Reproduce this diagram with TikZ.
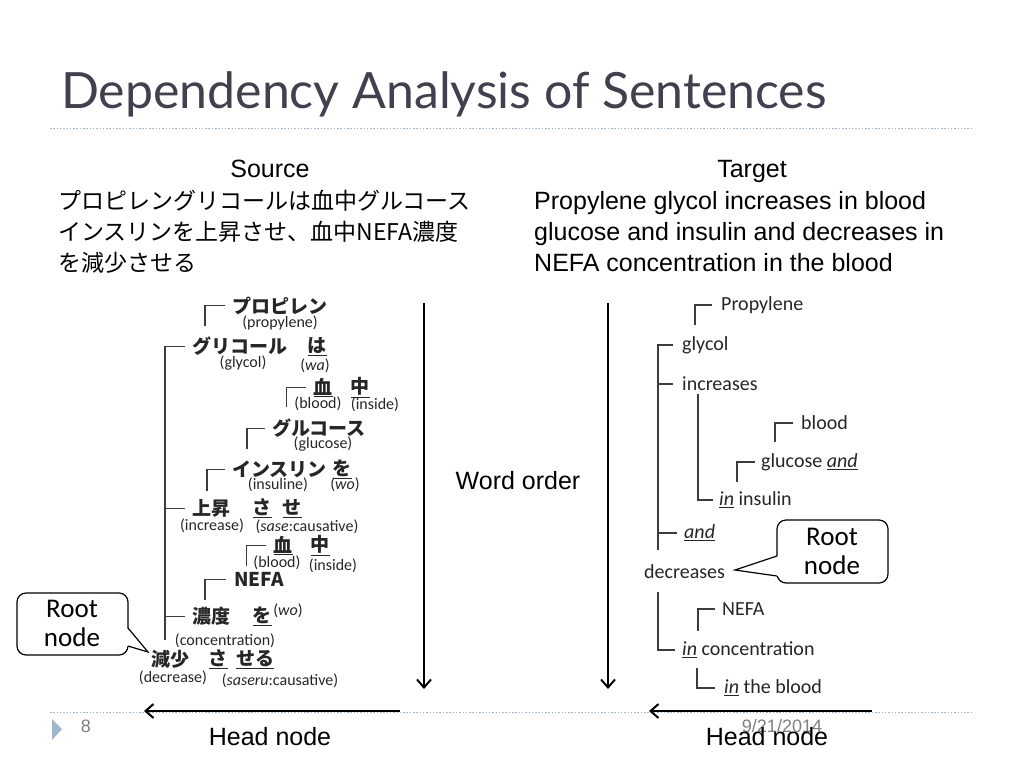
\documentclass[tikz,border=0pt]{standalone}
\usepackage{fontspec}
\setmainfont{Liberation Sans}
\newfontfamily\jpfont{Noto Sans CJK JP}
\newfontfamily\calfont{Carlito}
\newfontfamily\titlefont{Lato}
\usetikzlibrary{arrows.meta}
\definecolor{titlegray}{RGB}{64,64,78}
\definecolor{dotblue}{RGB}{160,182,204}
\definecolor{treegray}{RGB}{60,60,60}
\definecolor{footgray}{RGB}{128,128,128}
\begin{document}
\begin{tikzpicture}[x=1pt,y=-1pt,
  body/.style={font=\fontsize{25}{30}\selectfont, inner sep=0pt},
  jpbody/.style={font=\jpfont\fontsize{23}{28}\selectfont, inner sep=0pt, anchor=base west},
  jw/.style={font=\jpfont\bfseries\fontsize{19}{22}\selectfont, inner sep=0pt, text=black!85, yshift=1.5pt},
  gl/.style={font=\calfont\fontsize{16}{18}\selectfont, inner sep=0pt, text=black!85},
  ew/.style={font=\calfont\fontsize{20}{24}\selectfont, inner sep=0pt, anchor=west, text=black!85},
  tree/.style={draw=treegray, line width=1.6pt},
  dotline/.style={draw=dotblue, line width=1pt, dash pattern=on 1.5pt off 1.8pt},
  bigarrow/.style={draw=black, line width=2pt, -{Straight Barb[length=8pt,width=14pt,line width=2pt]}},
  callbox/.style={draw=black, line width=1.2pt, fill=white, rounded corners=9pt},
  calltext/.style={font=\calfont\fontsize{27}{29}\selectfont, align=center, inner sep=0pt}
]
\useasboundingbox (0,0) rectangle (1024,768);
\fill[white] (0,0) rectangle (1024,768);

% title and rules
\node[font=\titlefont\fontsize{50}{58}\selectfont, text=titlegray, anchor=base west, inner sep=0pt] (title) at (61,108) {Dependency Analysis of Sentences};
\coordinate (tl) at (50,128); \coordinate (tr) at (972,128);
\draw[dotline] (tl) -- (tr);
\coordinate (bl) at (50,712); \coordinate (br) at (972,712);
\draw[dotline] (bl) -- (br);

% headings and sentences
\node[body, anchor=base] (src) at (270,177) {Source};
\node[body, anchor=base] (tgt) at (752,177) {Target};
\node[jpbody] (js1) at (58,209) {プロピレングリコールは血中グルコース};
\node[jpbody] (js2) at (58,240) {インスリンを上昇させ、血中NEFA濃度};
\node[jpbody] (js3) at (58,271) {を減少させる};
\node[body, anchor=base west] (es1) at (534,209) {Propylene glycol increases in blood};
\node[body, anchor=base west] (es2) at (534,240) {glucose and insulin and decreases in};
\node[body, anchor=base west] (es3) at (534,271) {NEFA concentration in the blood};

% ---------- left tree ----------
\node[jw, anchor=west] (jpro) at (232,307) {プロピレン};
\node[gl] (gpro) at (280,323) {(propylene)};
\node[jw, anchor=west] (jgly) at (192,348) {グリコール};
\node[jw] (jwa) at (317,348) {\underline{は}};
\node[gl] (ggly) at (243,363) {(glycol)};
\node[gl] (gwa) at (315,366) {(\textit{wa})};
\node[jw] (jb1) at (323,389) {\underline{血}};
\node[jw] (jn1) at (360,389) {\underline{中}};
\node[gl] (gb1) at (318,404) {(blood)};
\node[gl] (gn1) at (375,405) {(inside)};
\node[jw, anchor=west] (jglu) at (272,430) {グルコース};
\node[gl] (gglu) at (323,444) {(glucose)};
\node[jw, anchor=west] (jins) at (232,471) {インスリン};
\node[jw] (jwo1) at (342,471) {\underline{を}};
\node[gl] (gins) at (278,485) {(insuline)};
\node[gl] (gwo1) at (345,485) {(\textit{wo})};
\node[jw, anchor=west] (jjo) at (192,510) {上昇};
\node[jw] (jsa1) at (262,510) {\underline{さ}};
\node[jw] (jse1) at (292,510) {\underline{せ}};
\node[gl] (ginc) at (212,526) {(increase)};
\node[gl] (gsase) at (307,527) {(\textit{sase}:causative)};
\node[jw] (jb2) at (283,547) {\underline{血}};
\node[jw] (jn2) at (320,547) {\underline{中}};
\node[gl] (gb2) at (277,563) {(blood)};
\node[gl] (gn2) at (333,566) {(inside)};
\node[jw, anchor=west] (jnefa) at (234,581) {NEFA};
\node[jw, anchor=west] (jnou) at (192,618) {濃度};
\node[jw] (jwo2) at (262,618) {\underline{を}};
\node[gl] (gwo2) at (288,611) {(\textit{wo})};
\node[gl] (gcon) at (225,641) {(concentration)};
\node[jw, anchor=west] (jgen) at (151,661) {減少};
\node[jw] (jsa2) at (218,661) {\underline{さ}};
\node[jw] (jseru) at (255,661) {\underline{せる}};
\node[gl] (gdec) at (173,678) {(decrease)};
\node[gl] (gsaseru) at (280,681) {(\textit{saseru}:causative)};

\coordinate (lspine) at (165,640);
\draw[tree] ([xshift=-7pt]jpro.west) -| ++(-20,20);
\draw[tree] ([xshift=-7pt]jgly.west) -| (lspine);
\draw[tree] ([xshift=-7pt]jjo.west) -- (jjo.west -| lspine);
\draw[tree] ([xshift=-7pt]jnou.west) -- (jnou.west -| lspine);
\draw[tree] ([xshift=-7pt]jb1.west) -| ++(-20,19);
\draw[tree] ([xshift=-7pt]jglu.west) -| ++(-18,20);
\draw[tree] ([xshift=-7pt]jins.west) -| ++(-18,21);
\draw[tree] ([xshift=-7pt]jb2.west) -| ++(-20,20);
\draw[tree] ([xshift=-8pt]jnefa.west) -| ++(-21,20);

% ---------- right tree ----------
\node[ew] (eprop) at (721,305) {Propylene};
\node[ew] (egly) at (682,345) {glycol};
\node[ew] (einc) at (682,384) {increases};
\node[ew] (eblood) at (801,423) {blood};
\node[ew] (eglu) at (761,462) {glucose \underline{\textit{and}}};
\node[ew] (eins) at (719,500) {\underline{\textit{in}} insulin};
\node[ew] (eand) at (684,533) {\underline{\textit{and}}};
\node[ew] (edec) at (644,572) {decreases};
\node[ew] (enefa) at (722,609) {NEFA};
\node[ew] (econ) at (682,650) {\underline{\textit{in}} concentration};
\node[ew] (etb) at (724,688) {\underline{\textit{in}} the blood};

\coordinate (rspine) at (658,550);
\coordinate (rspine2) at (658,592);
\draw[tree] ([xshift=-9pt]eprop.west) -| ++(-17,20);
\draw[tree] ([xshift=-9pt]egly.west) -| (rspine);
\draw[tree] ([xshift=-9pt]einc.west) -- (einc.west -| rspine);
\draw[tree] ([xshift=-7pt]eand.west) -- (eand.west -| rspine);
\draw[tree] ([xshift=-6pt]eins.west) -| ([xshift=16pt,yshift=-3pt]einc.south west);
\draw[tree] ([xshift=-8pt]eblood.west) -| ++(-18,19);
\draw[tree] ([xshift=-6pt]eglu.west) -| ++(-18,20);
\draw[tree] ([xshift=-7pt]enefa.west) -| ++(-17,22);
\draw[tree] ([xshift=-7pt]econ.west) -| (rspine2);
\draw[tree] ([xshift=-9pt]etb.west) -| ++(-18,-20);

% ---------- callouts ----------
\draw[callbox] (17,593) rectangle (128,655);
\coordinate (lc1) at (128,628); \coordinate (lc2) at (128,646); \coordinate (lctip) at (148,652);
\fill[white] ([xshift=-1pt]lc1) -- (lctip) -- ([xshift=-1pt]lc2) -- cycle;
\draw[line width=1.2pt, line join=miter] (lc1) -- (lctip) -- (lc2);
\node[calltext] (root1) at (72,623) {Root\\node};

\draw[callbox] (777,520) rectangle (888,583);
\coordinate (rc1) at (777,556); \coordinate (rc2) at (777,576); \coordinate (rctip) at (735,570);
\fill[white] ([xshift=1pt]rc1) -- (rctip) -- ([xshift=1pt]rc2) -- cycle;
\draw[line width=1.2pt, line join=miter] (rc1) -- (rctip) -- (rc2);
\node[calltext] (root2) at (832,551) {Root\\node};

% ---------- arrows ----------
\coordinate (va1s) at (424,303); \coordinate (va1e) at (424,689);
\coordinate (va2s) at (608,303); \coordinate (va2e) at (608,689);
\draw[bigarrow] (va1s) -- (va1e);
\draw[bigarrow] (va2s) -- (va2e);
\node[body] (word) at (518,481) {Word order};
\coordinate (ha1s) at (400,711); \coordinate (ha1e) at (144,711);
\coordinate (ha2s) at (872,711); \coordinate (ha2e) at (649,711);
\draw[bigarrow] (ha1s) -- (ha1e);
\draw[bigarrow] (ha2s) -- (ha2e);

% ---------- footer ----------
\fill[dotblue] (52,719) -- (62,729) -- (52,740) -- cycle;
\node[font=\fontsize{18}{20}\selectfont, text=footgray, inner sep=0pt] (pg) at (86,726) {8};
\node[font=\fontsize{18}{20}\selectfont, text=footgray, inner sep=0pt] (date) at (782,726) {9/21/2014};
\node[body] (head1) at (270,737) {Head node};
\node[body] (head2) at (767,737) {Head node};
\end{tikzpicture}
\end{document}
